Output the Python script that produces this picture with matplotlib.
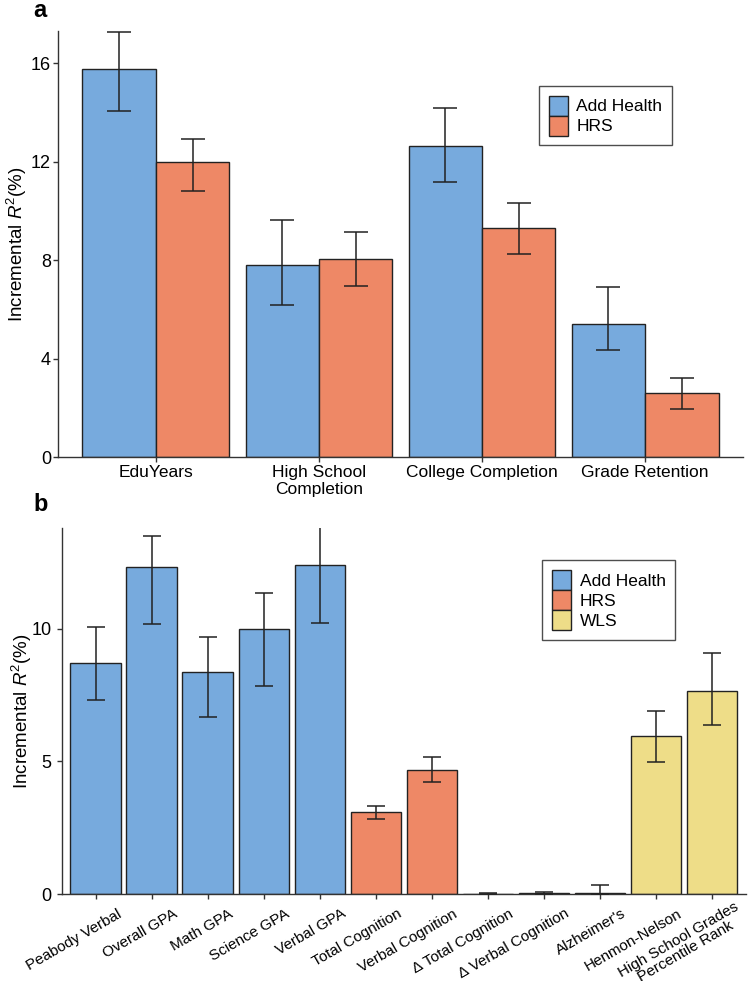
import matplotlib
matplotlib.use("Agg")
import matplotlib.pyplot as plt
import matplotlib.transforms as mtransforms
import numpy as np
from matplotlib.patches import Patch

plt.rcParams['font.family'] = ['Liberation Sans', 'DejaVu Sans']
plt.rcParams['mathtext.fontset'] = 'custom'
plt.rcParams['mathtext.rm'] = 'Liberation Sans'
plt.rcParams['mathtext.it'] = 'Liberation Sans:italic'

# ---- data panel a ----
a_categories = ["EduYears", "High School\nCompletion", "College Completion", "Grade Retention"]
a_addhealth = [15.76, 7.80, 12.61, 5.42]
a_addhealth_lo = [14.05, 6.17, 11.15, 4.34]
a_addhealth_hi = [17.27, 9.62, 14.17, 6.90]
a_hrs = [11.97, 8.04, 9.28, 2.59]
a_hrs_lo = [10.80, 6.94, 8.24, 1.96]
a_hrs_hi = [12.90, 9.15, 10.31, 3.21]
a_yticks = [0, 4, 8, 12, 16]

# ---- data panel b ----
b_categories = ["Peabody Verbal", "Overall GPA", "Math GPA", "Science GPA", "Verbal GPA",
                "Total Cognition", "Verbal Cognition", "\u0394 Total Cognition",
                "\u0394 Verbal Cognition", "Alzheimer's", "Henmon-Nelson",
                "High School Grades\nPercentile Rank"]
b_cohort = ["Add Health"] * 5 + ["HRS"] * 5 + ["WLS"] * 2
b_values = [8.70, 12.31, 8.38, 9.99, 12.41, 3.10, 4.69, 0.02, 0.05, 0.05, 5.95, 7.67]
b_lo = [7.33, 10.18, 6.68, 7.83, 10.21, 2.85, 4.23, 0.0, 0.03, 0.0, 4.99, 6.37]
b_hi = [10.05, 13.49, 9.68, 11.34, 13.82, 3.32, 5.17, 0.04, 0.08, 0.35, 6.90, 9.10]
b_yticks = [0, 5, 10]

colors = {"Add Health": "#77AADD", "HRS": "#EE8866", "WLS": "#EEDD88"}
edge = "#222222"

fig = plt.figure(figsize=(7.5, 9.81), dpi=100)

def style_axis(ax, ypad):
    for s in ["top", "right"]:
        ax.spines[s].set_visible(False)
    for s in ["left", "bottom"]:
        ax.spines[s].set_linewidth(1.0)
        ax.spines[s].set_color("#333333")
    ax.tick_params(axis="both", length=3.5, width=1.0, color="#333333", labelcolor="black")
    ax.tick_params(axis="y", labelsize=13, pad=ypad)

legend_kw = dict(loc="upper left", fontsize=12.5, frameon=True, fancybox=False,
                 edgecolor="#222222", handlelength=1.1, handleheight=1.4,
                 handletextpad=0.5, labelspacing=0.0, borderpad=0.55, borderaxespad=0)

# ---- panel a ----
axa = fig.add_axes([58/750, 1-457/981, (743-58)/750, (457-31)/981])
x = np.arange(1, len(a_categories) + 1)
w = 0.45
axa.bar(x - w/2, a_addhealth, width=w, color=colors["Add Health"], edgecolor=edge, linewidth=1.0, zorder=2)
axa.bar(x + w/2, a_hrs, width=w, color=colors["HRS"], edgecolor=edge, linewidth=1.0, zorder=2)
ah = np.array(a_addhealth); hr = np.array(a_hrs)
axa.errorbar(x - w/2, ah, yerr=[ah - np.array(a_addhealth_lo), np.array(a_addhealth_hi) - ah],
             fmt="none", ecolor="#222222", elinewidth=1.1, capsize=8.5, capthick=1.1, zorder=3)
axa.errorbar(x + w/2, hr, yerr=[hr - np.array(a_hrs_lo), np.array(a_hrs_hi) - hr],
             fmt="none", ecolor="#222222", elinewidth=1.1, capsize=8.5, capthick=1.1, zorder=3)
axa.set_xlim(0.4, len(a_categories) + 0.6)
axa.set_ylim(0, 17.3)
axa.set_yticks(a_yticks)
axa.set_xticks(x)
axa.set_xticklabels(a_categories, fontsize=12.5)
style_axis(axa, 1.5)
axa.tick_params(axis="x", pad=2)
axa.set_ylabel(r"Incremental $R^2$(%)", fontsize=13.5)
axa.yaxis.set_label_coords(-0.042, 0.5)
leg = axa.legend(handles=[Patch(facecolor=colors["Add Health"], edgecolor=edge, label="Add Health"),
                          Patch(facecolor=colors["HRS"], edgecolor=edge, label="HRS")],
                 bbox_to_anchor=((539-58)/685, (457-86)/426), **legend_kw)
leg.get_frame().set_linewidth(1.0)
fig.text(33/750, 1-17/981, "a", fontsize=17, fontweight="bold", ha="left", va="baseline")

# ---- panel b ----
axb = fig.add_axes([62/750, 1-894.3/981, (745.7-62)/750, (894.3-527.7)/981])
xb = np.arange(1, len(b_categories) + 1)
bv = np.array(b_values)
axb.bar(xb, bv, width=0.9, color=[colors[c] for c in b_cohort], edgecolor=edge, linewidth=1.0, zorder=2)
axb.errorbar(xb, bv, yerr=[bv - np.array(b_lo), np.array(b_hi) - bv],
             fmt="none", ecolor="#222222", elinewidth=1.1, capsize=6.5, capthick=1.1, zorder=3)
axb.set_xlim(0.4, len(b_categories) + 0.6)
axb.set_ylim(0, 13.8)
axb.set_yticks(b_yticks)
axb.set_xticks(xb)
style_axis(axb, 4)
axb.tick_params(axis="x", pad=4)
labels = axb.set_xticklabels(b_categories, rotation=30, ha="right", va="top",
                             rotation_mode="anchor", fontsize=11, multialignment="center",
                             linespacing=1.0)
offset = mtransforms.ScaledTranslation(21/100, -2/100, fig.dpi_scale_trans)
offset_multi = mtransforms.ScaledTranslation(22/100, 5/100, fig.dpi_scale_trans)
for lab in labels:
    off = offset_multi if "\n" in lab.get_text() else offset
    lab.set_transform(lab.get_transform() + off)
axb.set_ylabel(r"Incremental $R^2$(%)", fontsize=13.5)
axb.yaxis.set_label_coords(-0.041, 0.5)
leg = axb.legend(handles=[Patch(facecolor=colors[k], edgecolor=edge, label=k) for k in ["Add Health", "HRS", "WLS"]],
                 bbox_to_anchor=((542.3-62)/683.7, (894.3-560.3)/366.6), **legend_kw)
leg.get_frame().set_linewidth(1.0)
fig.text(33/750, 1-511/981, "b", fontsize=17, fontweight="bold", ha="left", va="baseline")

fig.savefig("out.png", dpi=100)
